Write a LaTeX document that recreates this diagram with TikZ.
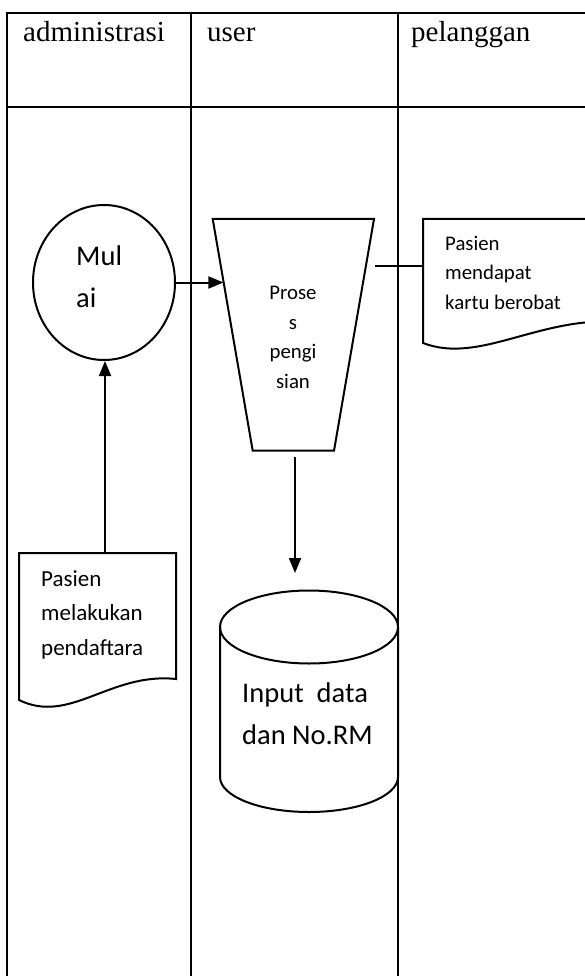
\documentclass[tikz,border=0pt]{standalone}
\usepackage{fontspec}
\setmainfont{Liberation Serif}
\newfontfamily\calibri{Carlito}
\usetikzlibrary{arrows.meta, shapes.geometric}

\tikzset{
  lane/.style = {line width = 2.6pt},
  flowline/.style = {line width = 2pt},
  headtext/.style = {inner sep = 0pt, font = \fontsize{29}{34}\selectfont},
  bigtext/.style = {inner sep = 0pt, align = left, font = \calibri\fontsize{28.5}{41.5}\selectfont},
  smalltext/.style = {inner sep = 0pt, font = \calibri\fontsize{20.8}{29.5}\selectfont}
}

\begin{document}
\begin{tikzpicture}[x = 1pt, y = -1pt, >={Triangle[length = 15pt, width = 12pt]}]
\useasboundingbox (0,0) rectangle (584,976);
% swimlanes
\draw[lane] (600,13) -- (7,13) -- (7,990);
\draw[lane] (7,107) -- (600,107);
\draw[lane] (191,13) -- (191,990);
\draw[lane] (398,13) -- (398,990);
\node[headtext, anchor = base west] (admin) at (23,41.7) {administrasi};
\node[headtext, anchor = base west] (user) at (207,41.7) {user};
\node[headtext, anchor = base west] (pelanggan) at (411,41.7) {pelanggan};

% mulai
\node[draw, flowline, ellipse, minimum width = 142pt, minimum height = 155pt, inner sep = 0pt] (mulai) at (104,282.5) {};
\node[bigtext, anchor = base west] (mulaitext) at (76,307) {Mul\\ai};

% proses pengisian
\draw[flowline] (212.7,219) -- (374,219) -- (334,450.7) -- (252.7,450.7) -- cycle;
\coordinate (prosesin) at (223.4,281);
\coordinate (prosesout) at (375,265.7);
\coordinate (prosesbottom) at (295,457);
\node[smalltext, align = center, anchor = base] (prosestext) at (293,388) {Prose\\s\\pengi\\sian};

% kartu berobat
\draw[flowline] (423,343) -- (423,219) -- (623,219) -- (623,322)
  .. controls (540,315) and (480,365) .. (423,343) -- cycle;
\coordinate (kartuin) at (423,265.7);
\node[smalltext, align = left, anchor = base west] (kartutext) at (445,309) {Pasien\\mendapat\\kartu berobat};

% pendaftaran
\draw[flowline] (19,700) -- (19,553) -- (176,553) -- (176,679)
  .. controls (110,672) and (70,725) .. (19,700) -- cycle;
\coordinate (daftartop) at (105,553);
\node[smalltext, font = \calibri\fontsize{23}{34.5}\selectfont, align = left, anchor = base west] (daftartext) at (41,655) {Pasien\\melakukan\\pendaftara};

% input data
\draw[flowline] (309,627) ellipse [x radius = 89pt, y radius = 36.5pt];
\draw[flowline] (220,627) -- (220,777) arc[start angle = 180, end angle = 360, x radius = 89pt, y radius = 35pt] -- (398,627);
\coordinate (inputtop) at (295,573);
\node[bigtext, anchor = base west] (inputtext) at (242,744) {Input\ \ data\\dan No.RM};

% connectors
\draw[flowline, ->] (mulai.east) -- (mulai.east -| prosesin);
\draw[flowline, ->] (daftartop) -- (daftartop |- mulai.south);
\draw[flowline] (prosesout) -- (kartuin);
\draw[flowline, ->] (prosesbottom) -- (inputtop);
\end{tikzpicture}
\end{document}
